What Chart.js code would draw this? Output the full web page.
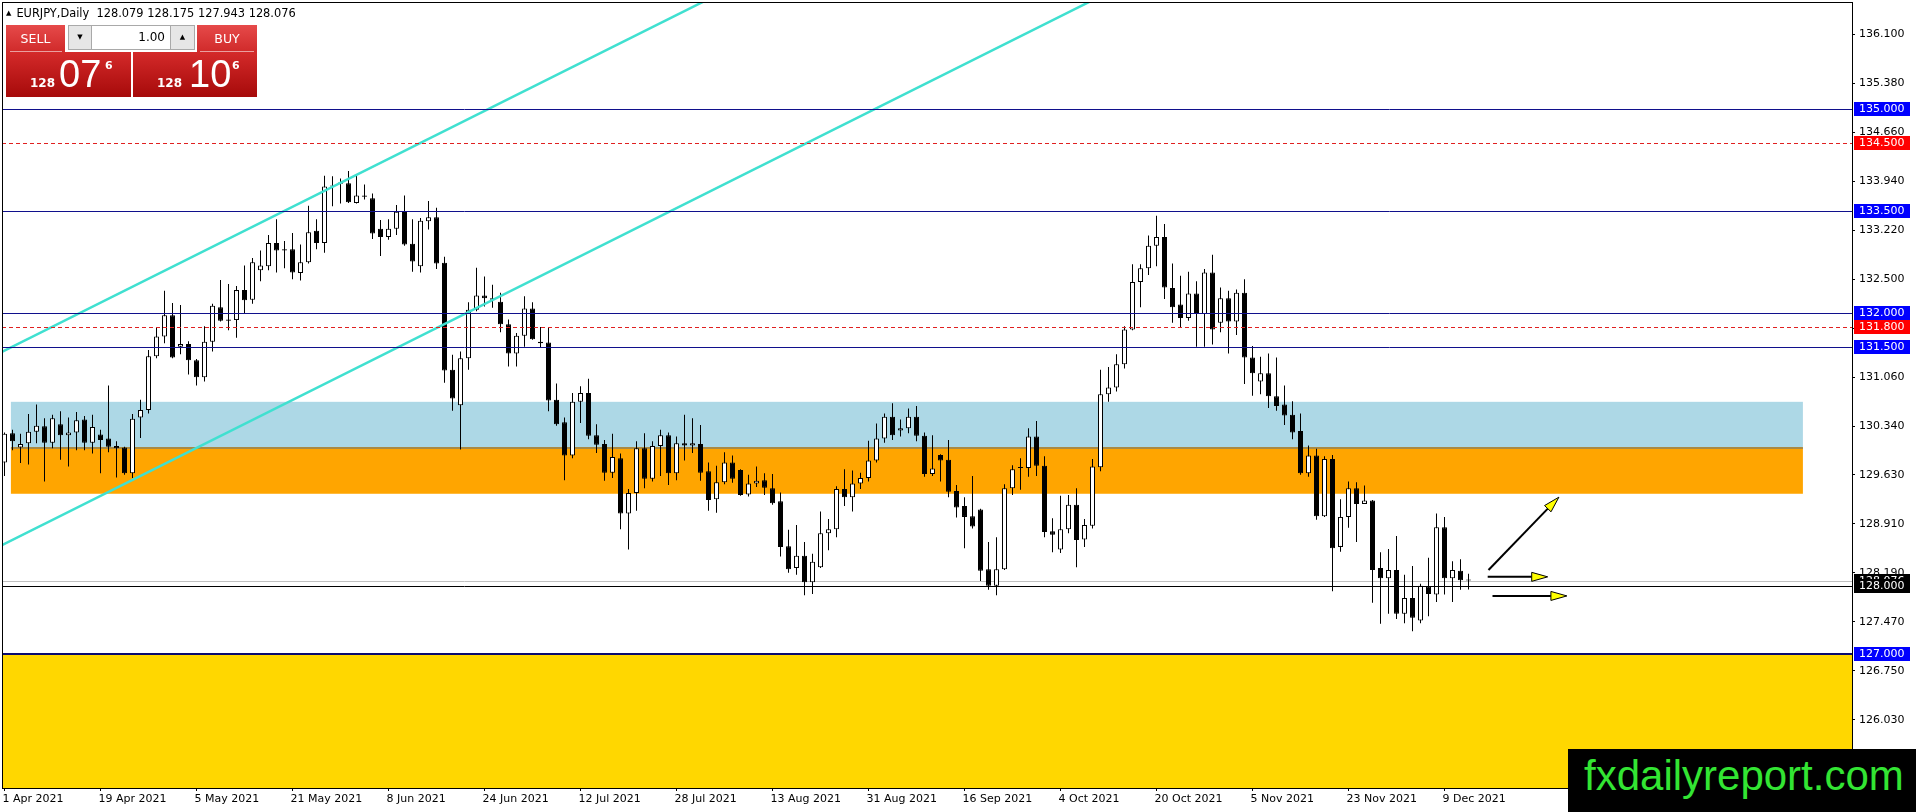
<!DOCTYPE html>
<html>
<head>
<meta charset="utf-8">
<title>EURJPY, Daily</title>
<script src="https://cdn.jsdelivr.net/npm/chart.js@4.4.0/dist/chart.umd.min.js"></script>
<style>
  html, body { margin: 0; padding: 0; background: #fff; }
  #wrap { position: relative; width: 1916px; height: 812px; overflow: hidden; font-family: "DejaVu Sans", sans-serif; }
  #chart { position: absolute; left: 0; top: 0; }
  .abs { position: absolute; }
  #title { left: 6px; top: 6px; font-size: 11.4px; color: #000; white-space: nowrap; }
  #title .tri { font-size: 7px; vertical-align: 2px; margin-right: 5px; }
  .btn { background: linear-gradient(#e64a4a, #d02a2a); color: #fff; font-size: 12.5px; text-align: center; line-height: 27px; }
  .sep { height: 1px; background: rgba(255,255,255,0.55); }
  .spin { background: #e6e6e6; border: 1px solid #a9a9a9; box-sizing: border-box; font-size: 7px; text-align: center; line-height: 23px; color: #000; }
  .lot { background: #fff; border-top: 1px solid #a9a9a9; border-bottom: 1px solid #a9a9a9; box-sizing: border-box; font-size: 12px; text-align: right; padding-right: 5px; line-height: 23px; }
  .quote { background: linear-gradient(#d42a2a, #a60a0a); color: #fff; }
  .quote span { position: absolute; line-height: 1; }
  .q-small { font: bold 12px "DejaVu Sans"; }
  .q-big { font: 38px "Liberation Sans"; }
  .q-sup { font: bold 11px "DejaVu Sans"; }
  #logo { left: 1568px; top: 749px; width: 348px; height: 63px; background: #000; }
  #logo span { position: absolute; left: 16px; top: 6px; font: 42px "Liberation Sans"; line-height: 1; color: #33e533; }
</style>
</head>
<body>
<div id="wrap">
  <canvas id="chart" width="1916" height="812"></canvas>

  <div id="title" class="abs"><span class="tri">&#9650;</span>EURJPY,Daily&nbsp; 128.079 128.175 127.943 128.076</div>

  <div class="abs btn" style="left:6px;top:25px;width:59px;height:27px;">SELL</div>
  <div class="abs spin" style="left:68px;top:25px;width:24px;height:25px;">&#9660;</div>
  <div class="abs lot" style="left:92px;top:25px;width:78px;height:25px;">1.00</div>
  <div class="abs spin" style="left:170px;top:25px;width:25px;height:25px;">&#9650;</div>
  <div class="abs btn" style="left:197px;top:25px;width:60px;height:27px;">BUY</div>

  <div class="abs quote" style="left:6px;top:52px;width:125px;height:45px;">
    <span class="q-small" style="left:24px;top:25px;">128</span>
    <span class="q-big" style="left:53px;top:3px;">07</span>
    <span class="q-sup" style="left:99px;top:8px;">6</span>
  </div>
  <div class="abs quote" style="left:133px;top:52px;width:124px;height:45px;">
    <span class="q-small" style="left:24px;top:25px;">128</span>
    <span class="q-big" style="left:56px;top:3px;">10</span>
    <span class="q-sup" style="left:99px;top:8px;">6</span>
  </div>
  <div class="abs sep" style="left:10px;top:51px;width:52px;"></div>
  <div class="abs sep" style="left:200px;top:51px;width:54px;"></div>

  <div id="logo" class="abs"><span>fxdailyreport.com</span></div>
</div>

<script>
// daily OHLC, 1 Apr 2021 .. 14 Dec 2021 (bar index = trading day)
const opens = [
  129.81,130.24,130.03,130.09,130.26,130.34,130.10,130.37,130.21,130.25,
  130.44,130.10,130.22,130.16,130.05,130.03,129.65,130.47,130.58,131.37,
  131.66,131.97,131.51,131.55,131.31,131.06,131.58,132.09,131.91,131.90,
  132.34,132.20,132.63,132.69,133.03,132.94,132.94,132.59,132.75,133.21,
  133.03,133.86,133.90,133.91,133.62,133.73,133.69,133.24,133.12,133.24,
  133.50,133.02,132.69,133.35,133.41,132.74,131.17,130.65,131.34,132.05,
  132.26,132.22,132.17,131.84,131.41,131.67,132.07,131.58,131.57,130.73,
  130.40,129.91,130.70,130.83,130.21,130.08,129.66,129.87,129.06,129.36,
  130.02,129.57,130.05,130.21,129.65,130.09,130.06,130.08,129.68,129.27,
  129.52,129.81,129.70,129.34,129.50,129.55,129.43,129.24,128.58,128.26,
  128.44,128.05,128.27,128.77,128.83,129.42,129.30,129.50,129.58,129.84,
  130.16,130.48,130.28,130.31,130.48,130.20,129.64,129.92,129.85,129.39,
  129.17,129.02,129.12,128.24,128.00,128.24,129.43,129.73,129.73,130.19,
  129.76,128.80,128.53,128.83,129.19,128.68,128.88,129.74,130.81,130.91,
  131.25,131.76,132.46,132.66,132.99,133.12,132.37,132.13,131.93,132.29,
  131.99,132.60,131.86,132.22,131.88,132.30,131.35,131.00,131.12,130.78,
  130.66,130.51,130.27,129.65,129.91,129.02,129.86,128.57,129.01,129.43,
  129.20,129.25,128.26,128.11,128.23,127.59,127.82,127.49,127.99,127.87,
  128.86,128.11,128.22,128.079
];
const highs = [
  130.25,130.29,130.23,130.52,130.66,130.46,130.51,130.56,130.47,130.55,
  130.49,130.51,130.29,130.94,130.12,130.04,130.52,130.73,131.46,131.80,
  132.33,132.15,132.12,131.59,131.33,131.81,132.14,132.49,132.43,132.40,
  132.70,132.81,132.92,133.15,133.38,133.06,133.18,133.01,133.58,133.38,
  134.02,134.01,133.98,134.09,134.03,133.89,133.76,133.37,133.38,133.59,
  133.73,133.38,133.40,133.65,133.55,132.83,131.39,131.44,132.16,132.67,
  132.54,132.42,132.30,131.91,131.71,132.25,132.16,131.80,131.79,130.97,
  130.47,130.83,130.93,131.04,130.37,130.14,130.23,129.94,129.42,130.12,
  130.24,130.12,130.29,130.25,130.19,130.51,130.46,130.36,129.81,129.76,
  129.96,129.91,129.71,129.63,129.75,129.65,129.64,129.37,128.82,128.89,
  128.64,128.47,129.09,128.98,129.46,129.71,129.69,129.66,130.13,130.38,
  130.53,130.68,130.44,130.60,130.64,130.25,130.21,129.93,130.14,129.48,
  129.30,129.61,129.13,128.64,128.71,129.49,129.77,129.87,130.31,130.42,
  129.90,128.99,129.32,129.33,129.43,128.98,129.86,131.17,131.21,131.40,
  131.81,132.72,132.72,133.14,133.43,133.31,132.73,132.55,132.61,132.47,
  132.65,132.86,132.38,132.33,132.35,132.50,131.52,131.36,131.41,131.35,
  130.94,130.71,130.53,130.06,130.01,129.90,129.92,129.27,129.53,129.52,
  129.47,129.26,128.49,128.54,128.73,128.16,128.29,128.03,128.41,129.06,
  129.01,128.36,128.39,128.175
];
const lows = [
  129.61,129.99,129.80,129.78,130.09,129.53,130.02,129.85,129.75,129.99,
  129.99,129.94,129.65,129.96,129.59,129.63,129.58,130.17,130.53,131.34,
  131.56,131.34,131.40,131.10,130.94,131.00,131.44,131.88,131.75,131.64,
  132.00,132.14,132.47,132.63,132.60,132.66,132.50,132.48,132.73,132.94,
  132.89,133.57,133.61,133.62,133.61,133.67,133.09,132.84,133.08,133.15,
  132.99,132.61,132.60,133.23,132.65,130.98,130.57,130.00,131.17,132.03,
  132.10,132.08,131.72,131.22,131.22,131.51,131.61,131.49,130.56,130.35,
  129.55,129.87,130.39,130.15,129.95,129.54,129.58,128.83,128.53,129.10,
  129.43,129.53,129.61,129.48,129.55,129.84,129.95,129.54,129.10,129.07,
  129.49,129.51,129.32,129.31,129.45,129.33,129.19,128.43,128.19,128.16,
  127.86,127.88,128.26,128.52,128.71,129.17,129.09,129.42,129.53,129.81,
  130.10,130.14,130.19,130.24,130.12,129.60,129.61,129.53,129.30,129.00,
  128.55,128.84,128.07,127.94,127.86,128.23,129.33,129.41,129.60,129.61,
  128.71,128.49,128.48,128.77,128.27,128.57,128.84,129.68,130.70,130.85,
  131.19,131.75,132.09,132.56,132.69,132.21,131.86,131.80,131.89,131.51,
  131.51,131.54,131.72,131.41,131.68,130.96,130.79,130.81,130.61,130.57,
  130.36,130.15,129.63,129.60,128.97,129.01,127.92,128.50,128.85,128.64,
  129.20,127.75,127.44,127.59,127.51,127.45,127.33,127.45,127.55,127.76,
  127.87,127.76,127.94,127.943
];
const closes = [
  130.23,130.12,130.08,130.26,130.35,130.10,130.46,130.21,130.25,130.43,
  130.10,130.33,130.14,130.04,130.02,129.65,130.45,130.58,131.37,131.66,
  131.97,131.35,131.55,131.31,131.06,131.58,132.11,131.89,131.89,132.34,
  132.19,132.75,132.70,133.03,132.92,132.92,132.60,132.75,133.19,133.03,
  133.86,133.87,133.92,133.63,133.73,133.71,133.17,133.12,133.24,133.49,
  133.01,132.76,133.36,133.41,132.73,131.16,130.75,131.34,132.05,132.26,
  132.22,132.20,131.84,131.41,131.67,132.07,131.62,131.56,130.72,130.37,
  129.91,130.70,130.83,130.20,130.07,129.66,129.89,129.06,129.36,130.02,
  129.57,130.05,130.21,129.65,130.09,130.06,130.09,129.66,129.26,129.52,
  129.81,129.57,129.33,129.50,129.54,129.44,129.21,128.57,128.24,128.44,
  128.05,128.35,128.77,128.83,129.42,129.30,129.50,129.58,129.84,130.16,
  130.48,130.21,130.31,130.48,130.20,129.64,129.72,129.84,129.38,129.15,
  129.01,128.87,128.22,128.00,128.24,129.43,129.71,129.74,130.19,129.76,
  128.79,128.75,128.83,129.19,128.67,128.89,129.75,130.81,130.91,131.25,
  131.76,132.46,132.66,132.99,133.12,132.38,132.09,131.93,132.29,131.99,
  132.60,131.76,132.22,131.88,132.30,131.35,131.12,131.12,130.78,130.64,
  130.50,130.25,129.65,129.91,129.02,129.86,128.55,129.01,129.43,129.20,
  129.25,128.23,128.11,128.23,127.59,127.82,127.53,128.00,127.88,128.86,
  128.11,128.23,128.08,128.076
];

// time axis labels, one every 12 bars
const dateLabels = ["1 Apr 2021", "19 Apr 2021", "5 May 2021", "21 May 2021", "8 Jun 2021", "24 Jun 2021",
  "12 Jul 2021", "28 Jul 2021", "13 Aug 2021", "31 Aug 2021", "16 Sep 2021", "4 Oct 2021",
  "20 Oct 2021", "5 Nov 2021", "23 Nov 2021", "9 Dec 2021"];
const dateLabelBars = [0, 12, 24, 36, 48, 60, 72, 84, 96, 108, 120, 132, 144, 156, 168, 180];

// price axis ticks
const priceTicks = [136.10, 135.38, 134.66, 133.94, 133.22, 132.50, 131.78, 131.06, 130.34,
  129.63, 128.91, 128.19, 127.47, 126.75, 126.03, 125.31];

// drawn objects
const resistanceLevels = [135.0, 133.5, 132.0, 131.5];
const fiboLevels = [134.5, 131.8];
const pivotLevel = 128.0;
const supportLevel = 127.0;
const bidPrice = 128.076;
const blueZone = [130.70, 130.02];
const orangeZone = [130.02, 129.35];
const zoneBars = [0.8, 224.8];
const channelUpperBars = [-0.56, 90];
const channelUpperPrices = [131.42, 136.73];
const channelLowerBars = [-0.56, 140];
const channelLowerPrices = [128.58, 136.83];
const arrowStartBars = [185.5, 185.4, 186.0];
const arrowStartPrices = [128.23, 128.13, 127.85];
const arrowEndBars = [194.3, 192.9, 195.3];
const arrowEndPrices = [129.30, 128.13, 127.85];

const barIdx = opens.map((_, i) => i);
const bodyData = barIdx.map(i => ({ x: i, y: [opens[i], closes[i]] }));
const wickData = barIdx.map(i => ({ x: i, y: [lows[i], highs[i]] }));
const isBull = i => closes[i] >= opens[i];

function hLine(ctx, area, y, color, width, dash) {
  ctx.save();
  ctx.strokeStyle = color;
  ctx.lineWidth = width;
  ctx.setLineDash(dash || []);
  const yy = width % 2 ? Math.round(y) + 0.5 : Math.round(y);
  ctx.beginPath();
  ctx.moveTo(area.left, yy);
  ctx.lineTo(area.right, yy);
  ctx.stroke();
  ctx.restore();
}

function drawArrow(ctx, x0, y0, x1, y1) {
  const ang = Math.atan2(y1 - y0, x1 - x0);
  const len = 16, half = 4.5;
  const bx = x1 - len * Math.cos(ang), by = y1 - len * Math.sin(ang);
  ctx.strokeStyle = '#000';
  ctx.lineWidth = 2;
  ctx.beginPath();
  ctx.moveTo(x0, y0);
  ctx.lineTo(bx, by);
  ctx.stroke();
  ctx.beginPath();
  ctx.moveTo(x1, y1);
  ctx.lineTo(bx + half * Math.sin(ang), by - half * Math.cos(ang));
  ctx.lineTo(bx - half * Math.sin(ang), by + half * Math.cos(ang));
  ctx.closePath();
  ctx.fillStyle = '#ffff00';
  ctx.fill();
  ctx.lineWidth = 1;
  ctx.stroke();
}

function priceTag(ctx, area, y, bg, text) {
  const yy = Math.round(y);
  ctx.fillStyle = bg;
  ctx.fillRect(area.right + 2, yy - 7, 56, 14);
  ctx.fillStyle = '#fff';
  ctx.font = '11px "DejaVu Sans"';
  ctx.textAlign = 'left';
  ctx.textBaseline = 'middle';
  ctx.fillText(text, area.right + 7, yy + 0.5);
}

const objectsPlugin = {
  id: 'objects',
  beforeDatasetsDraw(chart) {
    const { ctx, chartArea: a, scales: { x, y } } = chart;
    ctx.save();
    ctx.beginPath();
    ctx.rect(a.left, a.top, a.right - a.left, a.bottom - a.top);
    ctx.clip();
    // support area below 127
    const ys = y.getPixelForValue(supportLevel);
    ctx.fillStyle = '#ffd700';
    ctx.fillRect(a.left, ys, a.right - a.left, a.bottom - ys);
    // zones
    const zx0 = x.getPixelForValue(zoneBars[0]), zx1 = x.getPixelForValue(zoneBars[1]);
    let t = y.getPixelForValue(blueZone[0]), b = y.getPixelForValue(blueZone[1]);
    ctx.fillStyle = '#add8e6';
    ctx.fillRect(zx0, t, zx1 - zx0, b - t);
    t = y.getPixelForValue(orangeZone[0]); b = y.getPixelForValue(orangeZone[1]);
    ctx.fillStyle = '#ffa500';
    ctx.fillRect(zx0, t, zx1 - zx0, b - t);
    ctx.fillStyle = '#a98a45';
    ctx.fillRect(zx0, Math.round(t) - 1, zx1 - zx0, 2);
    // bid line
    hLine(ctx, a, y.getPixelForValue(bidPrice), '#c0c0c0', 1);
    ctx.restore();
  },
  afterDatasetsDraw(chart) {
    const { ctx, chartArea: a, scales: { x, y } } = chart;
    ctx.save();
    resistanceLevels.forEach(p => hLine(ctx, a, y.getPixelForValue(p), '#10108c', 1));
    fiboLevels.forEach(p => hLine(ctx, a, y.getPixelForValue(p), '#e02020', 1, [4, 3]));
    hLine(ctx, a, y.getPixelForValue(pivotLevel), '#000', 1);
    hLine(ctx, a, y.getPixelForValue(supportLevel), '#0a0a70', 2);
    for (let k = 0; k < arrowStartBars.length; k++) {
      drawArrow(ctx,
        x.getPixelForValue(arrowStartBars[k]), y.getPixelForValue(arrowStartPrices[k]),
        x.getPixelForValue(arrowEndBars[k]), y.getPixelForValue(arrowEndPrices[k]));
    }
    // chart frame
    ctx.strokeStyle = '#000';
    ctx.lineWidth = 1;
    ctx.strokeRect(a.left + 0.5, a.top + 0.5, a.right - a.left, a.bottom - a.top);
    ctx.restore();
  },
  afterDraw(chart) {
    const { ctx, chartArea: a, scales: { y } } = chart;
    ctx.save();
    resistanceLevels.forEach(p => priceTag(ctx, a, y.getPixelForValue(p), '#0000ff', p.toFixed(3)));
    fiboLevels.forEach(p => priceTag(ctx, a, y.getPixelForValue(p), '#ff0000', p.toFixed(3)));
    priceTag(ctx, a, y.getPixelForValue(bidPrice), '#000', bidPrice.toFixed(3));
    priceTag(ctx, a, y.getPixelForValue(pivotLevel), '#000', pivotLevel.toFixed(3));
    priceTag(ctx, a, y.getPixelForValue(supportLevel), '#0000ff', supportLevel.toFixed(3));
    ctx.restore();
  }
};

Chart.defaults.font.family = '"DejaVu Sans", sans-serif';
Chart.defaults.font.size = 11;
Chart.defaults.color = '#000';

new Chart(document.getElementById('chart'), {
  type: 'bar',
  data: {
    datasets: [
      {
        type: 'line',
        data: channelUpperBars.map((b, k) => ({ x: b, y: channelUpperPrices[k] })),
        borderColor: '#40e0d0', borderWidth: 2.5, pointRadius: 0, order: 0
      },
      {
        type: 'line',
        data: channelLowerBars.map((b, k) => ({ x: b, y: channelLowerPrices[k] })),
        borderColor: '#40e0d0', borderWidth: 2.5, pointRadius: 0, order: 0
      },
      {
        data: bodyData,
        barThickness: 5,
        grouped: false,
        borderWidth: 1,
        borderColor: '#000',
        borderSkipped: false,
        inflateAmount: 0,
        minBarLength: 1,
        backgroundColor: c => isBull(c.dataIndex) ? '#fff' : '#000',
        order: 1
      },
      {
        data: wickData,
        barThickness: 1,
        grouped: false,
        borderWidth: 0,
        inflateAmount: 0,
        minBarLength: 1,
        backgroundColor: '#000',
        order: 2
      }
    ]
  },
  options: {
    responsive: false,
    animation: false,
    events: [],
    layout: { padding: { left: 2, top: 2, right: 0, bottom: 0 } },
    plugins: { legend: { display: false }, tooltip: { enabled: false } },
    scales: {
      x: {
        type: 'linear',
        min: -0.3125,
        max: 230.9375,
        bounds: 'data',
        offset: false,
        grid: { display: true, drawOnChartArea: false, drawTicks: true, tickLength: 3, color: '#000', offset: false },
        border: { display: true, color: '#000' },
        ticks: {
          autoSkip: false, maxRotation: 0, align: 'start', labelOffset: -2, padding: 2,
          callback: (v, i) => dateLabels[i]
        },
        afterBuildTicks: s => { s.ticks = dateLabelBars.map(v => ({ value: v })); },
        afterFit: s => { s.height = 24; s.paddingLeft = 0; s.paddingRight = 0; }
      },
      y: {
        type: 'linear',
        position: 'right',
        min: 125.03,
        max: 136.57,
        bounds: 'data',
        grid: { display: true, drawOnChartArea: false, drawTicks: true, tickLength: 3, color: '#000' },
        border: { display: true, color: '#000' },
        ticks: { autoSkip: false, padding: 4, callback: v => v.toFixed(3) },
        afterBuildTicks: s => { s.ticks = priceTicks.map(v => ({ value: v })); },
        afterFit: s => { s.width = 64; s.paddingTop = 0; s.paddingBottom = 0; }
      }
    }
  },
  plugins: [objectsPlugin]
});
</script>
</body>
</html>
